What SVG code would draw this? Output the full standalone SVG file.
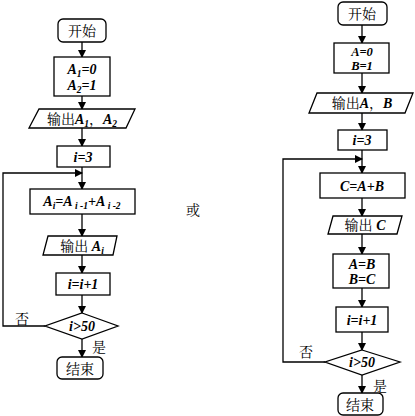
<svg xmlns="http://www.w3.org/2000/svg" width="415" height="416" viewBox="0 0 415 416">
<style>
.b{fill:#fff;stroke:#000;stroke-width:1.3}
.c{fill:none;stroke:#000;stroke-width:1.3}
.t{font-family:"Noto Serif CJK SC","Noto Sans CJK SC",serif;font-size:14px;fill:#000}
.m{font-family:"Liberation Serif","Times New Roman",serif;font-size:14px;font-weight:bold;font-style:italic;fill:#000}
.m2{font-size:12.5px}
.s{font-size:9.5px}
</style>
<defs>
<marker id="ah" markerWidth="8" markerHeight="8" refX="7" refY="4" orient="auto" markerUnits="userSpaceOnUse">
<path d="M0,0 L8,4 L0,8 z" fill="#000"/>
</marker>
</defs>
<rect width="415" height="416" fill="#fff"/>
<g id="connectors">
<line class="c" x1="82" y1="42" x2="82" y2="57" marker-end="url(#ah)"/>
<line class="c" x1="82" y1="96" x2="82" y2="109" marker-end="url(#ah)"/>
<line class="c" x1="82" y1="128" x2="82" y2="146" marker-end="url(#ah)"/>
<line class="c" x1="82" y1="167" x2="82" y2="189" marker-end="url(#ah)"/>
<line class="c" x1="82" y1="214" x2="82" y2="236" marker-end="url(#ah)"/>
<line class="c" x1="82" y1="255" x2="82" y2="273" marker-end="url(#ah)"/>
<line class="c" x1="82" y1="295" x2="82" y2="313" marker-end="url(#ah)"/>
<line class="c" x1="82" y1="339" x2="82" y2="357" marker-end="url(#ah)"/>
<polyline class="c" points="45,326 3,326 3,173 82,173" marker-end="url(#ah)"/>
<line class="c" x1="362" y1="25" x2="362" y2="43" marker-end="url(#ah)"/>
<line class="c" x1="362" y1="73" x2="362" y2="93" marker-end="url(#ah)"/>
<line class="c" x1="362" y1="113" x2="362" y2="130" marker-end="url(#ah)"/>
<line class="c" x1="362" y1="150" x2="362" y2="173" marker-end="url(#ah)"/>
<line class="c" x1="362" y1="198" x2="362" y2="216" marker-end="url(#ah)"/>
<line class="c" x1="362" y1="234" x2="362" y2="254" marker-end="url(#ah)"/>
<line class="c" x1="362" y1="288" x2="362" y2="307" marker-end="url(#ah)"/>
<line class="c" x1="362" y1="332" x2="362" y2="350" marker-end="url(#ah)"/>
<line class="c" x1="362" y1="375" x2="362" y2="393" marker-end="url(#ah)"/>
<polyline class="c" points="325,362 283,362 283,159 362,159" marker-end="url(#ah)"/>
<text class="t" x="22" y="324" text-anchor="middle">否</text>
<text class="t" x="99" y="352" text-anchor="middle">是</text>
<text class="t" x="306" y="357" text-anchor="middle">否</text>
<text class="t" x="380" y="391" text-anchor="middle">是</text>
</g>
<g id="L_start"><rect class="b" x="58" y="19" width="48" height="23" rx="5"/><text class="t" x="82" y="35.5" text-anchor="middle">开始</text></g>
<g id="L_init"><rect class="b" x="54" y="57" width="56" height="39"/>
<text class="m" x="82" y="74" text-anchor="middle">A<tspan class="s" dy="3">1</tspan><tspan dy="-3">=0</tspan></text>
<text class="m" x="82" y="90" text-anchor="middle">A<tspan class="s" dy="3">2</tspan><tspan dy="-3">=1</tspan></text></g>
<g id="L_out1"><polygon class="b" points="39,109 135,109 126,128 29,128"/>
<text x="82" y="123.5" text-anchor="middle"><tspan class="t">输出</tspan><tspan class="m">A<tspan class="s" dy="3">1</tspan></tspan><tspan class="t" dy="-3">，</tspan><tspan class="m">A<tspan class="s" dy="3">2</tspan></tspan></text></g>
<g id="L_i3"><rect class="b" x="57" y="146" width="53" height="21"/><text class="m" x="83" y="161.5" text-anchor="middle">i=3</text></g>
<g id="L_calc"><rect class="b" x="30" y="189" width="105" height="25"/>
<text class="m" x="82" y="206" text-anchor="middle">A<tspan class="s" dy="3">i</tspan><tspan dy="-3">=A</tspan><tspan class="s" dy="3"> i -1</tspan><tspan dy="-3">+A</tspan><tspan class="s" dy="3"> i -2</tspan></text></g>
<g id="L_out2"><polygon class="b" points="48,236 117,236 113,255 43,255"/>
<text x="82" y="250.5" text-anchor="middle"><tspan class="t">输出 </tspan><tspan class="m">A<tspan class="s" dy="3">i</tspan></tspan></text></g>
<g id="L_inc"><rect class="b" x="56" y="273" width="54" height="22"/><text class="m" x="83" y="289" text-anchor="middle">i=i+1</text></g>
<g id="L_cond"><polygon class="b" points="82,313 118,326 82,339 45,326"/><text class="m" x="82" y="331" text-anchor="middle">i&gt;50</text></g>
<g id="L_end"><rect class="b" x="57" y="357" width="46" height="22" rx="5"/><text class="t" x="80" y="373.5" text-anchor="middle">结束</text></g>
<g id="or"><text class="t" x="193" y="215" text-anchor="middle">或</text></g>
<g id="R_start"><rect class="b" x="338" y="2" width="49" height="23" rx="5"/><text class="t" x="362" y="18.5" text-anchor="middle">开始</text></g>
<g id="R_init"><rect class="b" x="334" y="43" width="55" height="30"/>
<text class="m m2" x="362" y="56" text-anchor="middle">A=0</text><text class="m m2" x="362" y="70" text-anchor="middle">B=1</text></g>
<g id="R_out1"><polygon class="b" points="317,93 413,93 405,113 309,113"/>
<text x="362" y="108" text-anchor="middle"><tspan class="t">输出</tspan><tspan class="m">A</tspan><tspan class="t">，</tspan><tspan class="m">B</tspan></text></g>
<g id="R_i3"><rect class="b" x="338" y="130" width="49" height="20"/><text class="m" x="362" y="145" text-anchor="middle">i=3</text></g>
<g id="R_calc"><rect class="b" x="320" y="173" width="85" height="25"/><text class="m" x="362" y="190.5" text-anchor="middle">C=A+B</text></g>
<g id="R_out2"><polygon class="b" points="333,216 402,216 397,234 328,234"/>
<text x="365" y="230" text-anchor="middle"><tspan class="t">输出 </tspan><tspan class="m">C</tspan></text></g>
<g id="R_swap"><rect class="b" x="333" y="254" width="56" height="34"/>
<text class="m" x="362" y="268.5" text-anchor="middle">A=B</text><text class="m" x="362" y="283.5" text-anchor="middle">B=C</text></g>
<g id="R_inc"><rect class="b" x="336" y="307" width="52" height="25"/><text class="m" x="362" y="324.5" text-anchor="middle">i=i+1</text></g>
<g id="R_cond"><polygon class="b" points="362,350 400,362 362,375 325,362"/><text class="m" x="362" y="367" text-anchor="middle">i&gt;50</text></g>
<g id="R_end"><rect class="b" x="338" y="393" width="45" height="22" rx="5"/><text class="t" x="360" y="409.5" text-anchor="middle">结束</text></g>
</svg>
